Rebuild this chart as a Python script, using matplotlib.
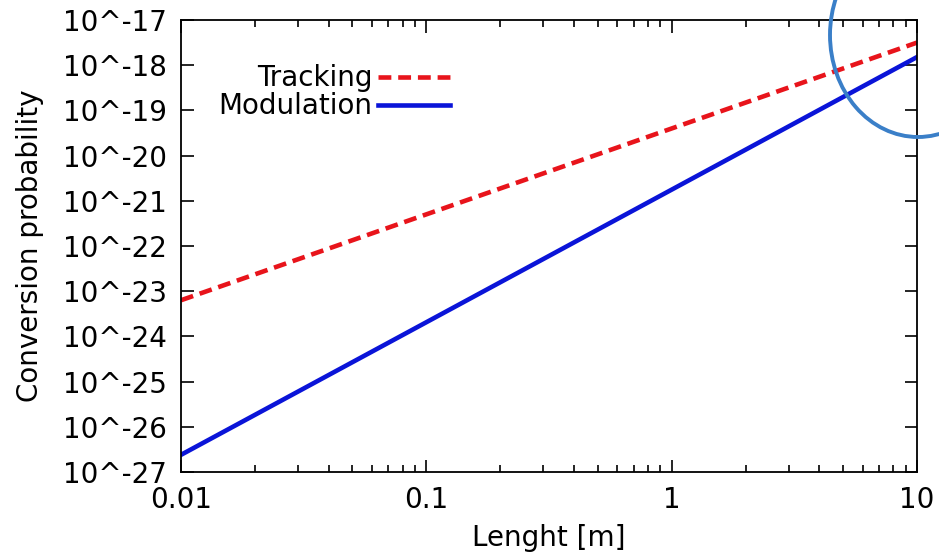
import matplotlib.pyplot as plt
from matplotlib.patches import Ellipse
import numpy as np

# endpoints of the two power-law curves (log-log straight lines)
length = [0.01, 10]
tracking = [10**-23.2, 10**-17.5]
modulation = [10**-26.62, 10**-17.82]

yticks = [10.0**k for k in range(-27, -16)]
ylabels = ['10^%d' % k for k in range(-27, -16)]
xticks = [0.01, 0.1, 1, 10]
xlabels = ['0.01', '0.1', '1', '10']

plt.rcParams['font.family'] = 'DejaVu Sans'
fig = plt.figure(figsize=(9.39, 5.54), dpi=100)
ax = fig.add_axes([181/939, 1 - 472/554, (917-181)/939, (472-20)/554])

ax.plot(length, tracking, color='#e8141b', lw=3.3, ls=(0, (2.8, 1.5)), label='Tracking')
ax.plot(length, modulation, color='#0a14d8', lw=3.3, label='Modulation')

ax.set_xscale('log')
ax.set_yscale('log')
ax.set_xlim(0.01, 10)
ax.set_ylim(1e-27, 1e-17)
ax.set_xticks(xticks, xlabels)
ax.set_yticks(yticks, ylabels)
ax.yaxis.set_minor_locator(plt.NullLocator())
ax.tick_params(which='both', direction='in', top=True, right=True, labelsize=20, width=1.2)
ax.tick_params(which='major', length=9)
ax.tick_params(axis='y', pad=10)
ax.tick_params(axis='x', pad=10)
ax.tick_params(which='minor', length=5)
for s in ax.spines.values():
    s.set_linewidth(1.3)

ax.set_xlabel('Lenght [m]', fontsize=20, labelpad=7)
ax.set_ylabel('Conversion probability', fontsize=20, labelpad=14)

leg = ax.legend(loc='upper right', bbox_to_anchor=(0.366, 0.902), frameon=False,
                fontsize=20, markerfirst=False, handlelength=2.6,
                handletextpad=0.2, labelspacing=0.0, borderaxespad=0, borderpad=0)
for t in leg.get_texts():
    t.set_ha('right')

# highlight circle at the top right
circ = Ellipse((918/939, 1 - 35/554), 176/939, 204/554, transform=fig.transFigure,
               fill=False, edgecolor='#3a7fc8', lw=2.8, clip_on=False)
fig.add_artist(circ)

fig.savefig('out.png', dpi=100)
